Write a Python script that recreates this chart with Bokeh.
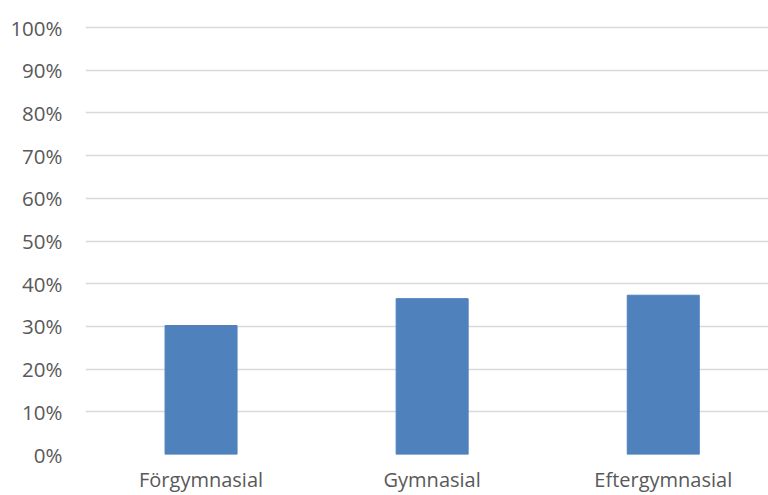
from bokeh.plotting import figure
from bokeh.models import Range1d, FixedTicker, PrintfTickFormatter
from bokeh.embed import file_html
from bokeh.resources import INLINE

categories = ["Förgymnasial", "Gymnasial", "Eftergymnasial"]
values = [30.2, 36.5, 37.3]
y_ticks = [0, 10, 20, 30, 40, 50, 60, 70, 80, 90, 100]

xpos = [i + 0.5 for i in range(len(categories))]

p = figure(frame_width=683, frame_height=429, output_backend="svg", toolbar_location=None,
           x_range=Range1d(0, 683 / 231.1), y_range=Range1d(0, 100 + 2 / 4.27),
           min_border_left=85, min_border_right=0, min_border_top=25, min_border_bottom=10)
p.outline_line_color = None
p.background_fill_color = "white"
p.border_fill_color = "white"

p.vbar(x=xpos, top=values, width=72 / 231.1, bottom=0, color="#4f81bd")

p.xgrid.visible = False
p.ygrid.ticker = FixedTicker(ticks=y_ticks)
p.ygrid.grid_line_color = "#d9d9d9"
p.ygrid.grid_line_width = 1.3

p.yaxis.ticker = FixedTicker(ticks=y_ticks)
p.yaxis.formatter = PrintfTickFormatter(format="%d%%")
p.yaxis.axis_line_color = None
p.yaxis.major_tick_line_color = None
p.yaxis.minor_tick_line_color = None
p.yaxis.major_tick_out = 0
p.yaxis.major_label_standoff = 23
p.yaxis.major_label_text_font = "Open Sans"
p.yaxis.major_label_text_font_size = "20.5px"
p.yaxis.major_label_text_color = "#595959"

p.xaxis.ticker = FixedTicker(ticks=xpos)
p.xaxis.major_label_overrides = {x: c for x, c in zip(xpos, categories)}
p.xaxis.axis_line_color = None
p.xaxis.major_tick_line_color = None
p.xaxis.minor_tick_line_color = None
p.xaxis.major_tick_out = 0
p.xaxis.major_label_standoff = 11
p.xaxis.major_label_text_font = "Open Sans"
p.xaxis.major_label_text_font_size = "20px"
p.xaxis.major_label_text_color = "#595959"

open("out.html", "w").write(file_html(p, INLINE))
